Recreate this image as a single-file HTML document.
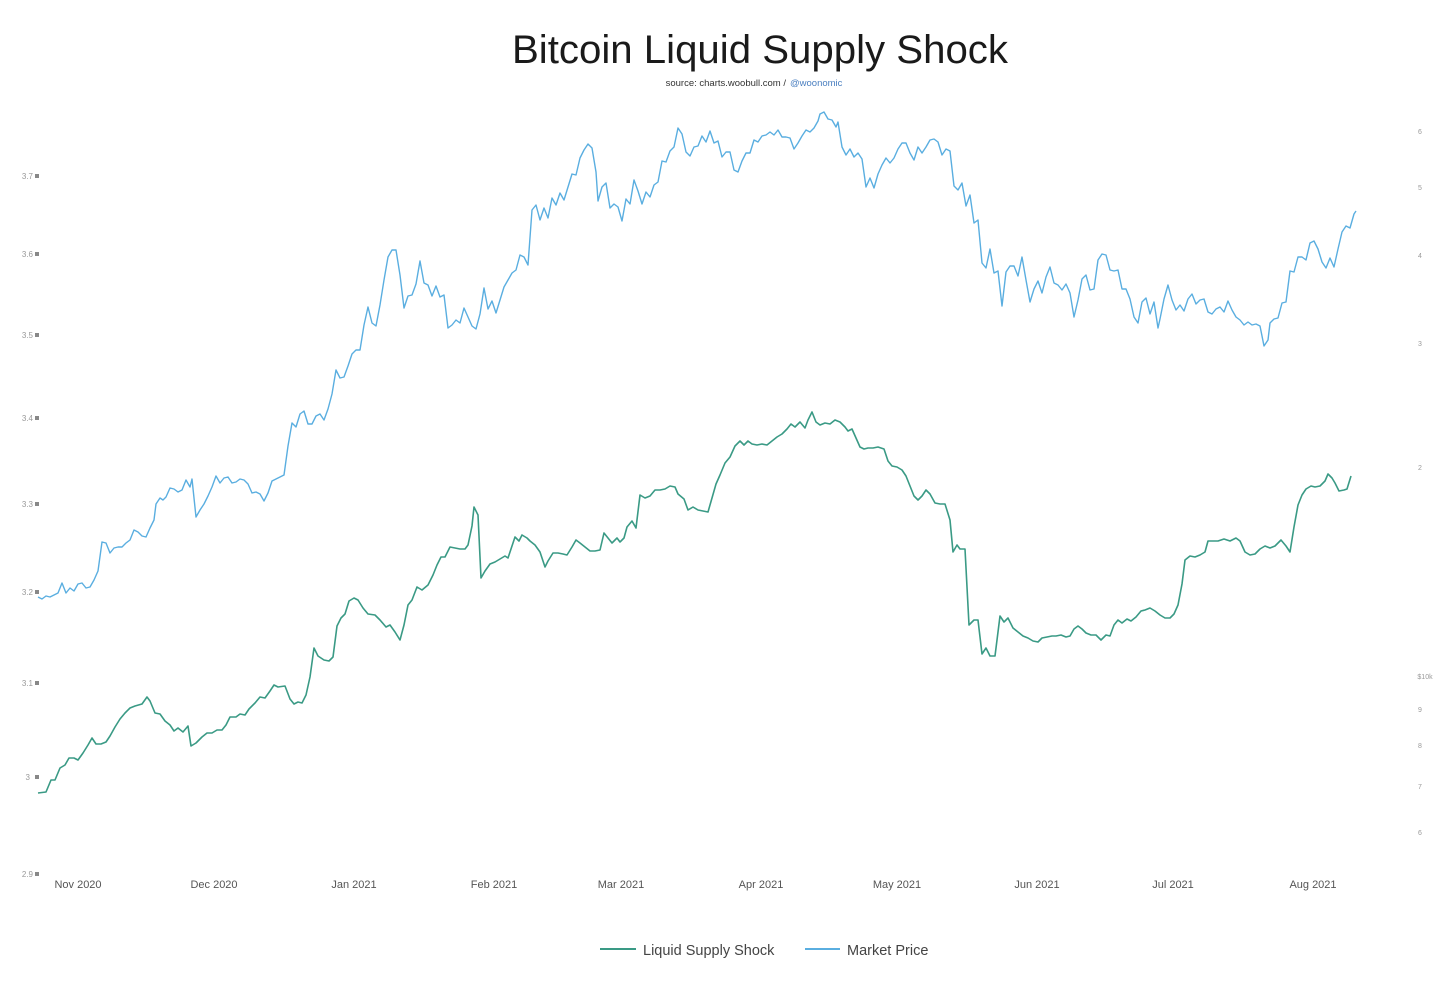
<!DOCTYPE html>
<html><head><meta charset="utf-8"><style>
body{margin:0;background:#fff;width:1456px;height:984px;overflow:hidden;font-family:"Liberation Sans",sans-serif}
</style></head><body>
<svg width="1456" height="984" xmlns="http://www.w3.org/2000/svg" font-family="Liberation Sans, sans-serif">
<text x="760" y="63" text-anchor="middle" font-size="40" fill="#1a1a1a" textLength="496" lengthAdjust="spacingAndGlyphs">Bitcoin Liquid Supply Shock</text>
<text x="786" y="86" text-anchor="end" font-size="9.5" fill="#333">source: charts.woobull.com /</text>
<text x="790" y="86" font-size="9.5" fill="#4a7fc0">@woonomic</text>
<g font-size="8" fill="#999" text-anchor="end">
<text x="33" y="179">3.7</text><text x="33" y="257">3.6</text><text x="33" y="338">3.5</text><text x="33" y="421">3.4</text><text x="33" y="507">3.3</text><text x="33" y="595">3.2</text><text x="33" y="686">3.1</text><text x="30" y="780">3</text><text x="33" y="877">2.9</text>
</g>
<g fill="#888"><rect x="35" y="174" width="4" height="4"/><rect x="35" y="252" width="4" height="4"/><rect x="35" y="333" width="4" height="4"/><rect x="35" y="416" width="4" height="4"/><rect x="35" y="502" width="4" height="4"/><rect x="35" y="590" width="4" height="4"/><rect x="35" y="681" width="4" height="4"/><rect x="35" y="775" width="4" height="4"/><rect x="35" y="872" width="4" height="4"/></g>
<g font-size="7" fill="#999" text-anchor="middle">
<text x="1420" y="134">6</text><text x="1420" y="190">5</text><text x="1420" y="258">4</text><text x="1420" y="346">3</text><text x="1420" y="470">2</text><text x="1425" y="679">$10k</text><text x="1420" y="712">9</text><text x="1420" y="748">8</text><text x="1420" y="789">7</text><text x="1420" y="835">6</text>
</g>
<g font-size="11" fill="#555" text-anchor="middle">
<text x="78" y="888">Nov 2020</text><text x="214" y="888">Dec 2020</text><text x="354" y="888">Jan 2021</text><text x="494" y="888">Feb 2021</text><text x="621" y="888">Mar 2021</text><text x="761" y="888">Apr 2021</text><text x="897" y="888">May 2021</text><text x="1037" y="888">Jun 2021</text><text x="1173" y="888">Jul 2021</text><text x="1313" y="888">Aug 2021</text>
</g>
<polyline fill="none" stroke="#5aaee0" stroke-width="1.4" stroke-linejoin="round" points="38,597 42,599 46,596 50,597 54,595 58,593 62,583 66,593 70,588 74,591 78,584 82,583 86,588 90,587 94,580 98,571 102,542 106,543 110,553 114,548 118,547 122,547 126,543 130,540 134,530 138,532 142,536 146,537 150,528 154,520 156,504 160,498 163,500 166,497 170,488 174,489 178,492 182,490 186,480 190,487 192,479 196,517 200,510 204,504 208,496 212,487 216,476 220,483 224,478 228,477 232,483 236,482 240,479 244,480 248,484 252,493 256,492 260,494 264,501 268,493 272,481 276,479 280,477 284,475 288,446 292,423 296,427 300,414 304,411 308,424 312,424 316,416 320,414 324,420 328,409 332,394 336,370 340,378 344,377 348,366 352,354 356,350 360,350 364,325 368,307 372,323 376,326 380,305 384,280 388,257 392,250 396,250 400,275 404,308 408,296 412,295 416,284 420,261 424,283 428,285 432,296 436,286 440,297 444,295 448,328 452,325 456,320 460,323 464,308 468,317 472,326 476,329 480,314 484,288 488,309 492,301 496,313 500,300 504,287 508,280 512,273 516,270 520,255 524,257 528,265 532,210 536,205 540,220 544,208 548,218 552,198 556,205 560,193 564,200 568,187 572,174 576,175 580,158 584,150 588,144 592,148 596,172 598,201 602,187 606,183 610,208 614,204 618,207 622,221 626,199 630,204 634,180 638,191 642,204 646,192 650,197 654,185 658,182 662,161 666,162 670,151 674,147 678,128 682,134 686,152 690,156 694,147 698,146 702,136 706,142 710,131 714,143 718,141 722,157 726,152 730,152 734,170 738,172 742,161 746,153 750,153 754,140 758,142 762,136 766,135 770,132 774,135 778,130 782,137 786,137 790,138 794,149 798,143 802,136 806,130 810,132 814,128 818,121 820,114 824,112 828,119 832,120 836,127 838,122 842,147 846,155 850,149 854,157 858,153 862,159 866,187 870,178 874,188 878,174 882,165 886,158 890,163 894,158 898,149 902,143 906,143 910,153 914,160 918,147 922,153 926,147 930,140 934,139 938,142 942,155 946,149 950,151 954,186 958,190 962,183 966,206 970,195 974,223 978,220 982,263 986,268 990,249 994,273 998,271 1002,306 1006,272 1010,266 1014,266 1018,276 1022,257 1026,280 1030,302 1034,289 1038,281 1042,293 1046,277 1050,267 1054,283 1058,285 1062,290 1066,284 1070,293 1074,317 1078,300 1082,279 1086,275 1090,290 1094,289 1098,260 1102,254 1106,255 1110,270 1114,271 1118,270 1122,289 1126,289 1130,299 1134,317 1138,323 1142,302 1146,298 1150,314 1154,302 1158,328 1160,319 1164,299 1168,285 1172,300 1176,310 1180,305 1184,311 1188,299 1192,294 1196,304 1200,300 1204,299 1208,312 1212,314 1216,309 1220,307 1224,312 1228,301 1232,310 1236,317 1240,320 1244,325 1248,322 1252,325 1256,324 1260,326 1264,346 1268,340 1270,323 1274,319 1278,318 1282,303 1286,302 1290,271 1294,272 1298,257 1302,257 1306,260 1310,243 1314,241 1318,249 1322,262 1326,268 1330,258 1334,267 1338,249 1342,232 1346,226 1350,228 1354,214 1356,211"/>
<polyline fill="none" stroke="#3a9a85" stroke-width="1.6" stroke-linejoin="round" points="38,793 46,792 51,780 55,780 60,768 65,765 69,758 74,758 78,760 83,753 88,745 92,738 96,744 101,744 106,742 110,736 115,727 120,719 125,713 130,708 135,706 142,704 147,697 150,701 155,713 160,714 165,721 170,725 174,731 178,728 183,732 188,726 191,746 196,743 202,737 207,733 212,733 217,730 222,730 226,725 230,717 236,717 240,714 245,715 249,709 255,703 260,697 265,698 270,691 274,685 278,687 285,686 290,699 294,704 298,702 302,703 306,695 310,677 314,648 318,656 324,660 329,661 333,657 337,626 341,618 345,614 349,601 354,598 358,600 363,608 368,614 375,615 380,620 386,627 390,625 395,632 400,640 404,625 408,605 412,600 417,587 422,590 428,585 433,575 437,565 441,557 445,557 450,547 455,548 460,549 465,549 468,545 472,526 474,507 478,515 481,578 485,571 490,564 495,562 500,559 505,556 508,558 512,546 515,537 519,541 522,535 527,538 530,541 535,545 540,552 545,567 548,561 553,553 558,553 563,554 567,555 572,547 576,540 580,543 585,547 590,551 595,551 600,550 604,533 608,538 612,543 617,538 620,542 624,538 627,527 632,521 636,528 640,495 645,498 650,496 655,490 660,490 665,489 670,486 675,487 678,494 684,499 688,510 693,507 698,510 703,511 708,512 712,498 716,484 720,475 725,463 730,457 735,446 740,441 744,445 748,441 752,444 757,445 762,444 767,445 772,441 777,437 782,434 787,429 791,424 795,427 800,422 805,428 808,420 812,412 816,422 820,425 825,423 830,424 835,420 840,422 845,427 848,431 852,429 856,438 860,447 864,449 868,448 873,448 878,447 884,449 888,461 892,466 897,467 902,470 906,476 910,486 914,496 918,500 922,496 926,490 930,494 935,503 940,504 945,504 950,520 953,552 957,545 960,549 965,549 969,625 974,620 978,620 982,654 986,648 990,656 995,656 1000,616 1004,622 1008,618 1013,628 1018,632 1023,636 1028,638 1033,641 1038,642 1042,638 1047,637 1052,636 1056,636 1061,635 1066,637 1070,636 1074,629 1078,626 1082,629 1086,633 1091,635 1096,635 1101,640 1106,635 1110,636 1114,625 1118,620 1122,623 1127,619 1131,621 1136,617 1141,611 1145,610 1150,608 1155,611 1160,615 1165,618 1170,618 1174,614 1178,605 1182,584 1185,560 1190,556 1195,557 1200,555 1205,552 1208,541 1212,541 1218,541 1224,539 1230,541 1236,538 1240,541 1245,552 1250,555 1255,554 1260,549 1265,546 1270,548 1275,546 1281,540 1286,546 1290,552 1294,527 1298,505 1302,495 1306,489 1311,486 1315,487 1320,486 1325,481 1328,474 1332,478 1335,483 1339,491 1344,490 1347,489 1351,476"/>
<line x1="600" y1="949" x2="636" y2="949" stroke="#3a9a85" stroke-width="2"/>
<text x="643" y="955" font-size="14.5" fill="#444">Liquid Supply Shock</text>
<line x1="805" y1="949" x2="840" y2="949" stroke="#5aaee0" stroke-width="2"/>
<text x="847" y="955" font-size="14.5" fill="#444">Market Price</text>
</svg>
</body></html>
